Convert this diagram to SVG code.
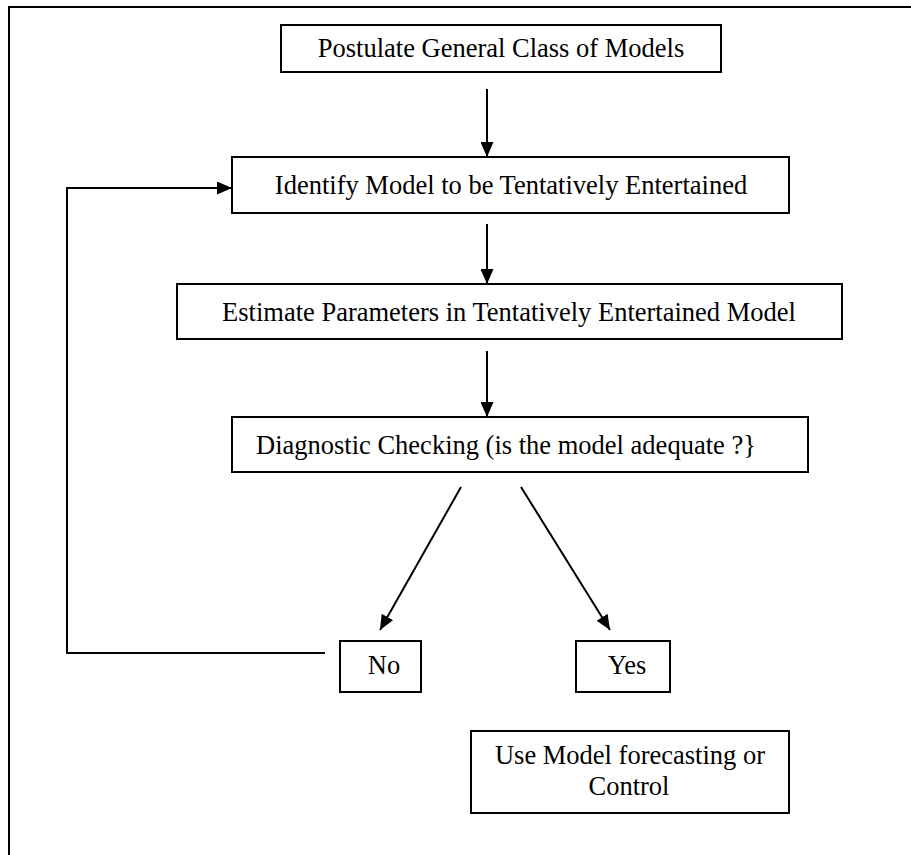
<svg xmlns="http://www.w3.org/2000/svg" width="911" height="855" viewBox="0 0 911 855">
<style>
.box{fill:#fff;stroke:#000;stroke-width:2}
.t{font-family:"Liberation Serif","Times New Roman",serif;font-size:26.5px;fill:#000}
.c{fill:none;stroke:#000;stroke-width:2}
</style>
<defs>
<marker id="ah" viewBox="0 0 15 13" refX="15" refY="6.5" markerWidth="15" markerHeight="13" markerUnits="userSpaceOnUse" orient="auto">
<path d="M0,0 L15,6.5 L0,13 Z" fill="#000"/>
</marker>
</defs>
<rect width="911" height="855" fill="#fff"/>
<path d="M9,855 V7 H911" fill="none" stroke="#000" stroke-width="2"/>
<g id="connectors">
<line class="c" x1="487" y1="89" x2="487" y2="157" marker-end="url(#ah)"/>
<line class="c" x1="487" y1="224" x2="487" y2="284" marker-end="url(#ah)"/>
<line class="c" x1="487" y1="351" x2="487" y2="417" marker-end="url(#ah)"/>
<line class="c" x1="461" y1="487" x2="380" y2="630" marker-end="url(#ah)"/>
<line class="c" x1="521" y1="487" x2="610" y2="630" marker-end="url(#ah)"/>
<path class="c" d="M325,653 H67 V188 H232" marker-end="url(#ah)"/>
</g>
<g id="postulate">
<rect class="box" x="281" y="25" width="440" height="47"/>
<text class="t" x="501" y="57" text-anchor="middle">Postulate General Class of Models</text>
</g>
<g id="identify">
<rect class="box" x="232" y="157" width="557" height="56"/>
<text class="t" x="511" y="194" text-anchor="middle">Identify Model to be Tentatively Entertained</text>
</g>
<g id="estimate">
<rect class="box" x="177" y="284" width="665" height="55"/>
<text class="t" x="509" y="321" text-anchor="middle">Estimate Parameters in Tentatively Entertained Model</text>
</g>
<g id="diagnostic">
<rect class="box" x="232" y="417" width="576" height="55"/>
<text class="t" x="256" y="454">Diagnostic Checking (is the model adequate ?}</text>
</g>
<g id="no">
<rect class="box" x="340" y="641" width="81" height="51"/>
<text class="t" x="384" y="674" text-anchor="middle">No</text>
</g>
<g id="yes">
<rect class="box" x="576" y="641" width="94" height="51"/>
<text class="t" x="627" y="674" text-anchor="middle">Yes</text>
</g>
<g id="use">
<rect class="box" x="471" y="731" width="318" height="82"/>
<text class="t" x="630" y="764" text-anchor="middle">Use Model forecasting or</text>
<text class="t" x="629" y="795" text-anchor="middle">Control</text>
</g>
</svg>
